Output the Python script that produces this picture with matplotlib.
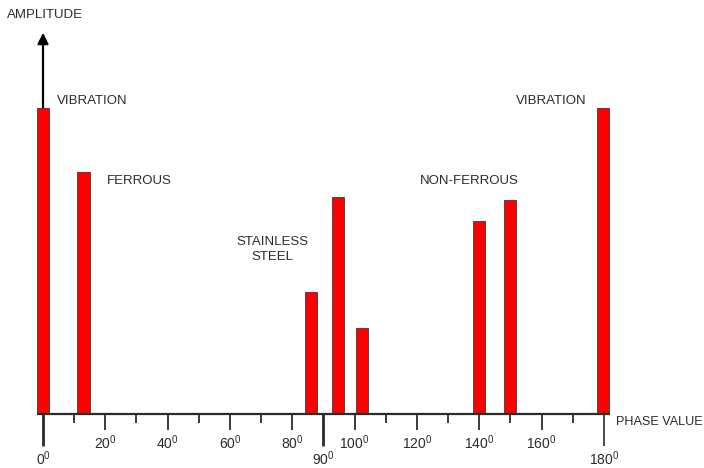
"""Phase/amplitude discrimination chart for a metal detector."""

import matplotlib

matplotlib.use("Agg")
import matplotlib.pyplot as plt

plt.rcParams["font.family"] = ["Liberation Sans", "DejaVu Sans"]
plt.rcParams["mathtext.fontset"] = "custom"
plt.rcParams["mathtext.rm"] = "Liberation Sans"
plt.rcParams["mathtext.it"] = "Liberation Sans"

# phase (degrees) and relative amplitude of each signal bar
phases = [0, 13, 86, 94.6, 102.3, 139.8, 149.9, 179.6]
amplitudes = [100, 79, 40, 71, 28, 63, 70, 100]

# tick marks on the phase axis
minor_ticks = [10, 30, 50, 70, 110, 130, 150, 170]
mid_ticks = [20, 40, 60, 80, 100, 120, 140, 160]
long_ticks = [0, 90, 180]

# group labels: (text, phase, amplitude, alignment)
group_labels = [
    ("VIBRATION", 4.5, 102.2, "left"),
    ("FERROUS", 20.5, 76, "left"),
    ("STAINLESS\nSTEEL", 73.5, 53.8, "center"),
    ("NON-FERROUS", 121, 76, "left"),
    ("VIBRATION", 151.8, 102.2, "left"),
]

INK = "#2b2b2b"
RED = "#ff0000"

fig = plt.figure(figsize=(7.04, 4.68), dpi=100)
ax = fig.add_axes([0, 0, 1, 1])
ax.set_xlim(-13.8, 212.1)
ax.set_ylim(-17.65, 135.3)
ax.set_axis_off()

# amplitude axis arrow
ax.annotate(
    "",
    xy=(0, 125.5),
    xytext=(0, 0),
    arrowprops=dict(arrowstyle="-|>", color="black", lw=1.6, mutation_scale=16),
)

# bars
ax.bar(phases, amplitudes, width=3.9, color=RED, edgecolor="#3a3a3a", linewidth=0.6, zorder=3)

# phase axis
ax.plot([-2, 182], [0, 0], color=INK, lw=1.6, zorder=4, solid_capstyle="butt")
ax.vlines(minor_ticks, -3.0, 0, color=INK, lw=1.3)
ax.vlines(mid_ticks, -5.3, 0, color=INK, lw=1.3)
ax.vlines(long_ticks, -10.6, 0, color=INK, lw=[2.0, 2.0, 1.2])

for t in mid_ticks:
    ax.text(t, -9.3, f"{t}$^0$", ha="center", va="center", fontsize=10, color=INK)
for t in long_ticks:
    ax.text(t, -14.5, f"{t}$^0$", ha="center", va="center", fontsize=10, color=INK)

for text, x, y, align in group_labels:
    ax.text(x, y, text, ha=align, va="center", fontsize=9.5, color=INK,
            multialignment="center", linespacing=1.3)

ax.text(-11.5, 130.5, "AMPLITUDE", ha="left", va="center", fontsize=9.5, color=INK)
ax.text(184, -2.6, "PHASE VALUE", ha="left", va="center", fontsize=9.1, color=INK)

fig.savefig("out.png", dpi=100)
plt.close(fig)
